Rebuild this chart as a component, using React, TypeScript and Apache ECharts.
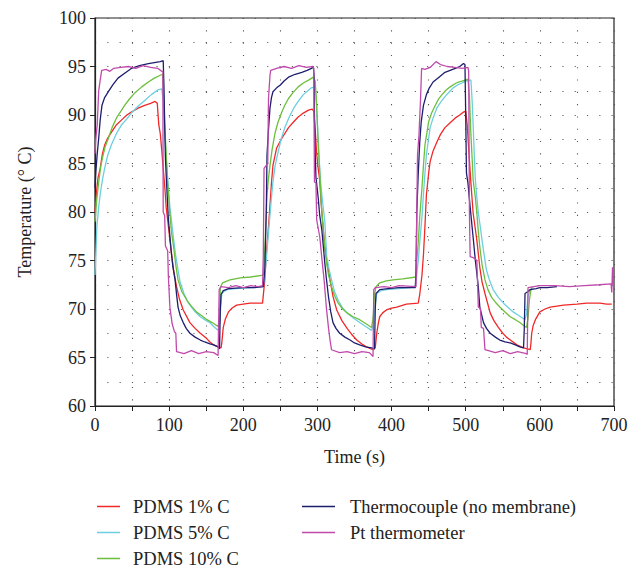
import React, { useEffect, useRef } from "react";
import * as echarts from "echarts";

const SERIES_NAMES = [
  "PDMS 1% C",
  "PDMS 5% C",
  "PDMS 10% C",
  "Thermocouple (no membrane)",
  "Pt thermometer",
];
const COLORS = ["#f02828", "#6ccfe0", "#6cbf3c", "#1e1e6e", "#c04aac"];

const X_TICKS = [0, 100, 200, 300, 400, 500, 600, 700];
const Y_TICKS = [60, 65, 70, 75, 80, 85, 90, 95, 100];

const pdms1: number[][] = [
  [0,80],[2,82],[4,83.5],[7,84.5],[10,86],[13,86.9],[17,87.6],[22,88.2],[29,89],[36,89.5],[43,90],[49,90.3],[58,90.7],[67,91],[75,91.2],[81,91.4],[84,91.2],[86,89],[88,88.1],[90,86.4],[92,84.5],[94.4,82.3],[96,80.5],[99,78.5],[103,75.8],[106,74],[110,72.3],[114,71],[119,69.9],[128,68.6],[135,68],[142,67.5],[150,67],[155,66.6],[160,66.3],[166,66.1],[170,66],[171,66.5],[173,68.1],[176,69],[180,69.7],[185,70.1],[191,70.4],[200,70.5],[209,70.6],[226,70.6],
  [229,73],[231,75.6],[234,78.5],[236,80.7],[238,83],[240,84.8],[245,86.6],[252,87.6],[261,88.7],[268,89.3],[274,89.8],[281,90.2],[288,90.5],[293,90.6],[295,90.4],[297,88.5],[299,86],[301,84.5],[303,83.3],[306,79.9],[310,76.4],[313,74.8],[317,73],[321,71.3],[326,69.9],[333,68.8],[340,68],[346,67.4],[353,66.8],[360,66.4],[366,66.1],[375,65.8],[378,66],[380,67.5],[382,68.5],[384,69.2],[388,69.6],[393,69.9],[400,70.1],[407,70.2],[420,70.5],[436,70.6],
  [438,71.5],[441,73.5],[443,75.6],[445,78.5],[447,81.8],[450,84],[452,85.2],[456,86.3],[461,87.2],[466,88],[472,88.7],[479,89.2],[486,89.7],[492,90],[497,90.3],[500,90.4],[502,89],[504,86.5],[507,83],[510,79.9],[515,77.1],[519,74.3],[522,72.8],[526,71.6],[533,69.6],[538,68.8],[544,68.1],[550,67.5],[555,67.1],[562,66.7],[569,66.3],[578,66],[587,65.8],[588,66.5],[589,67.5],[591,68.3],[594,68.9],[600,69.7],[607,70],[614,70.2],[632,70.4],[650,70.5],[663,70.6],[681,70.6],[690,70.5],[697,70.5],
];

const pdms5: number[][] = [
  [0,73.5],[1,75.5],[2.5,78.4],[5,80.5],[7,81.8],[10,83.3],[13,84.5],[17,85.8],[22,86.9],[29,88.1],[36,89],[43,89.6],[49,90.2],[58,90.9],[67,91.5],[76,92.1],[85,92.6],[90,92.7],[92,91.5],[94,88.5],[96,85.5],[99,82.5],[101,80.5],[103,79.2],[106,77.2],[109,75.4],[112,74],[115,72.7],[120,71.6],[126,70.6],[134,69.8],[142,69.2],[150,68.8],[155,68.6],[160,68.2],[166,67.8],[168,68.5],[171,71.6],[174,71.8],[178,72],[190,72.1],[210,72.2],[227,72.3],
  [229,73.5],[231,75],[233,77],[236,79.7],[238,81.5],[240,83.1],[243,84.8],[247,86.2],[251,87.5],[256,88.7],[262,89.8],[268,90.7],[274,91.4],[281,92.1],[287,92.5],[292,92.8],[296,92.9],[298,92],[300,89],[302,86],[304,83.3],[307,81],[310,79],[312.5,75.4],[316,74],[319,73],[323,71.8],[328,70.9],[334,70.1],[340,69.6],[348,69.1],[357,68.6],[365,68.2],[373,67.8],[376,68.5],[378,70.5],[380,71.6],[386,71.9],[393,72],[410,72.1],[425,72.2],[432,72.3],
  [434,73.5],[436,75],[438,76.9],[441,79.5],[443,81.8],[445,84],[447,85.9],[450,87.6],[452,88.7],[456,89.7],[461,90.7],[466,91.3],[472,91.9],[478,92.4],[483,92.8],[489,93.1],[495,93.3],[500,93.5],[504,93.6],[507,93.6],[509,91],[511,87],[513,83.3],[515,81.5],[517,79.9],[520,78.3],[522,77.1],[525,75.5],[528,74],[532,73],[537,72],[544,71.2],[551,70.6],[558,70.1],[564,69.7],[570,69.4],[576,69.1],[580,68.9],[582,69.5],[584,71.3],[587,72],[590,72.1],
];

const pdms10: number[][] = [
  [0,79],[2,81],[5,83.1],[8,84.8],[11,85.9],[14,86.8],[18,87.6],[23,88.7],[29,89.7],[35,90.4],[40,91],[47,91.7],[54,92.3],[63,92.9],[72,93.4],[80,93.8],[88,94.1],[91,94.2],[92.5,92],[94,89],[96,86],[98,83],[101,79.9],[103,78],[106,76.4],[109,74.5],[112,73],[117,71.8],[124,70.9],[130,70.3],[137,69.7],[144,69.3],[151,68.9],[158,68.6],[166,68.2],[168,69],[169,72.2],[172,72.7],[182,73],[196,73.2],[210,73.3],[227,73.5],
  [229,76],[232,81.8],[234,83.5],[236,84.8],[239,86.5],[243,88.2],[247,89.3],[252,90.3],[256,91],[261,91.7],[267,92.3],[274,92.9],[281,93.3],[288,93.6],[294.5,93.9],[297,93.5],[299,91],[301,87],[303.5,83.6],[305,81],[308,78.1],[310,76.3],[312.5,74.7],[315,73.5],[319,72.3],[323,71.4],[328,70.6],[334,70],[340,69.6],[348,69.2],[357,68.9],[365,68.5],[373,68.1],[375,69],[377,71.5],[379,72.3],[384,72.7],[393,72.9],[402,73],[415,73.1],[433,73.3],
  [434,75],[436,76.9],[438,79.5],[441,82.5],[443,84.8],[445,86.9],[450,89.3],[454,90.2],[459,91],[463,91.6],[468,92.1],[474,92.6],[479,92.9],[485,93.2],[490,93.4],[495,93.5],[499,93.6],[503,93.7],[505,92],[507,88],[509,85],[510,83.3],[513,81.5],[515,79.9],[517,78],[519,76.4],[522,74.6],[526,73],[530,72],[535,71.2],[540,70.7],[546,70.2],[553,69.7],[560,69.2],[567,68.9],[573,68.6],[578,68.3],[582,68.1],[584,69],[586,71],[588,72],[590,72.3],
];

const thermocouple: number[][] = [
  [0,82.5],[1,84],[3,86],[5,87.6],[7,89.5],[9.4,91],[13,91.8],[18,92.4],[24,93.1],[31,93.8],[40,94.3],[49,94.8],[60,95.1],[72,95.3],[80,95.4],[88,95.5],[92,95.6],[93,93],[94,89],[95,85.5],[96.5,83],[99,79.2],[101,77.5],[103,75.8],[105,74.4],[108,73],[110,71.5],[112,70.2],[115,69.3],[119,68.6],[123,68],[128,67.5],[135,67.1],[142,66.8],[148,66.6],[155,66.4],[160,66.3],[166,66.1],[168,65.9],[169,70],[170,71.5],[173,71.9],[180,72.1],[200,72.2],[215,72.2],[227,72.3],
  [229,74],[231,80],[232,85.9],[234,88.5],[236,90.7],[238,91.8],[240,92.4],[245,92.8],[250,93.1],[255,93.5],[261,93.9],[270,94.2],[279,94.4],[286,94.6],[292,94.8],[294.5,95],[295.5,94],[296,90],[297,86],[298,83.6],[301,81.5],[303,79.7],[306,78.1],[308,76.4],[310,74.7],[312,73.2],[315,71.2],[318,69.7],[321,68.6],[325,68],[330,67.5],[337,67.1],[344,66.8],[350,66.5],[357,66.3],[365,66.1],[373,66],[377,65.9],[378,70],[379,71.6],[384,72],[395,72.1],[410,72.2],[432,72.2],
  [433,74],[434,80],[436,84],[438,87.2],[440,89.3],[443,91],[447,92.1],[451,92.8],[456,93.4],[464,93.9],[472,94.4],[479,94.6],[486,94.8],[492,95],[497,95.3],[499,95.2],[500,90],[501,84],[503,83],[506,80.5],[510,77.4],[513,75],[517,72.3],[519,70.2],[524,68.6],[528,68],[533,67.5],[540,67.1],[546,66.8],[553,66.6],[560,66.5],[567,66.3],[573,66.1],[578,66],[579,68],[580,71.6],[584,71.8],[587,72],[595,72.1],[600,72.2],[610,72.2],[623,72.3],
];

const ptThermometer: number[][] = [
  [0,86],[1,87.5],[3,89],[5,92.5],[7,93.6],[9,94.6],[15,94.7],[20,94.5],[25,94.8],[35,94.9],[45,95],[55,94.8],[65,95.1],[75,94.9],[85,94.8],[90,94.5],[91.5,94.5],[92,80],[94,79.6],[95,76.5],[98,76],[99,73.3],[101,70.2],[104,68.5],[107,67.7],[109,67.5],[110,65.6],[120,65.4],[130,65.7],[140,65.4],[150,65.6],[160,65.5],[166,65.2],[167.5,72],[170,72.3],[180,72.2],[190,72.4],[200,72.2],[210,72.4],[220,72.3],[226,72.4],
  [227,75.6],[228,84.5],[233,85],[234,91.7],[236,94.1],[237,94.6],[245,94.8],[255,95],[265,94.8],[275,95.1],[285,94.9],[294,95],[295,94.8],[296,83.1],[298,83],[299,79.2],[303,77.5],[304,76.8],[306,75.2],[309,73],[312,70.2],[315,68],[317,66.8],[319,65.8],[330,65.5],[340,65.6],[350,65.4],[360,65.6],[370,65.5],[375,65.1],[376,72],[378,72.2],[390,72.3],[400,72.2],[410,72.4],[433,72.3],
  [434,80],[435,85.9],[437,88],[439,91.5],[440.5,94.8],[445,94.7],[452,94.9],[460,95.5],[466,95.2],[475,95],[485,94.9],[495,94.8],[503,94.9],[504,94.5],[505,80],[506,75.4],[510,75.3],[515,75],[517,70.2],[520,70],[521,68.1],[524,68],[526,65.8],[540,65.5],[550,65.7],[560,65.4],[570,65.6],[582,65.4],[583,65.3],[584,72.2],[600,72.4],[620,72.4],[640,72.3],[660,72.4],[680,72.5],[696,72.6],[697,71.7],[698,74.3],[699,72.5],
];

const SERIES_DATA = [pdms1, pdms5, pdms10, thermocouple, ptThermometer];

const FONT = "'Liberation Serif', 'DejaVu Serif', serif";

// legend placement: [left, top, iconWidth, textPad]
const LEGEND_SLOTS = [
  [97, 497, 23, 8],
  [97, 523, 23, 8],
  [97, 549, 23, 8],
  [302, 497, 33, 10],
  [302, 523, 33, 10],
];

export default function App() {
  const ref = useRef<HTMLDivElement>(null);
  useEffect(() => {
    if (!ref.current) return;
    const chart = echarts.init(ref.current, undefined, { renderer: "svg" });
    const dotted = { color: "#555", width: 1.1, type: [1.1, 11.2] as number[] };
    chart.setOption({
      animation: false,
      backgroundColor: "#fff",
      textStyle: { fontFamily: FONT },
      grid: {
        left: 95,
        right: 29,
        top: 18,
        bottom: 163,
        show: true,
        borderColor: "#222",
        borderWidth: 1.2,
      },
      legend: SERIES_NAMES.map((name, i) => ({
        orient: "horizontal",
        icon: "rect",
        padding: 0,
        itemHeight: 1.5,
        itemWidth: LEGEND_SLOTS[i][2],
        selectedMode: false,
        left: LEGEND_SLOTS[i][0],
        top: LEGEND_SLOTS[i][1],
        data: [name],
        textStyle: {
          fontFamily: FONT,
          fontSize: 18.5,
          color: "#222",
          padding: [0, 0, 0, LEGEND_SLOTS[i][3]],
        },
      })),
      xAxis: {
        type: "value",
        min: 0,
        max: 700,
        interval: 50,
        name: "Time (s)",
        nameLocation: "middle",
        nameGap: 42,
        nameTextStyle: { fontFamily: FONT, fontSize: 18, color: "#222" },
        axisLine: { show: true, lineStyle: { color: "#222", width: 1.2 } },
        axisTick: { show: true, inside: false, length: 5, lineStyle: { color: "#222" } },
        axisLabel: {
          margin: 10,
          fontFamily: FONT,
          fontSize: 18,
          color: "#222",
          formatter: (v: number) => (X_TICKS.includes(v) ? String(v) : ""),
        },
        splitLine: { show: true, lineStyle: dotted },
      },
      yAxis: {
        type: "value",
        min: 60,
        max: 100,
        interval: 5,
        name: "Temperature (° C)",
        nameLocation: "middle",
        nameGap: 61,
        nameTextStyle: { fontFamily: FONT, fontSize: 18, color: "#222" },
        axisLine: { show: true, lineStyle: { color: "#222", width: 1.2 } },
        axisTick: { show: true, inside: false, length: 5, lineStyle: { color: "#222" } },
        axisLabel: {
          margin: 9,
          fontFamily: FONT,
          fontSize: 18,
          color: "#222",
          formatter: (v: number) => (Y_TICKS.includes(v) ? String(v) : ""),
        },
        splitLine: { show: true, lineStyle: dotted },
        minorTick: { show: false, splitNumber: 2 },
        minorSplitLine: { show: true, lineStyle: dotted },
      },
      series: SERIES_NAMES.map((name, i) => ({
        name,
        type: "line",
        data: SERIES_DATA[i],
        showSymbol: false,
        symbol: "none",
        color: COLORS[i],
        lineStyle: { width: 1.3, color: COLORS[i] },
      })),
    });
    return () => chart.dispose();
  }, []);
  return (
    <div
      ref={ref}
      style={{ position: "fixed", left: 0, top: 0, width: 643, height: 569, background: "#fff" }}
    />
  );
}
